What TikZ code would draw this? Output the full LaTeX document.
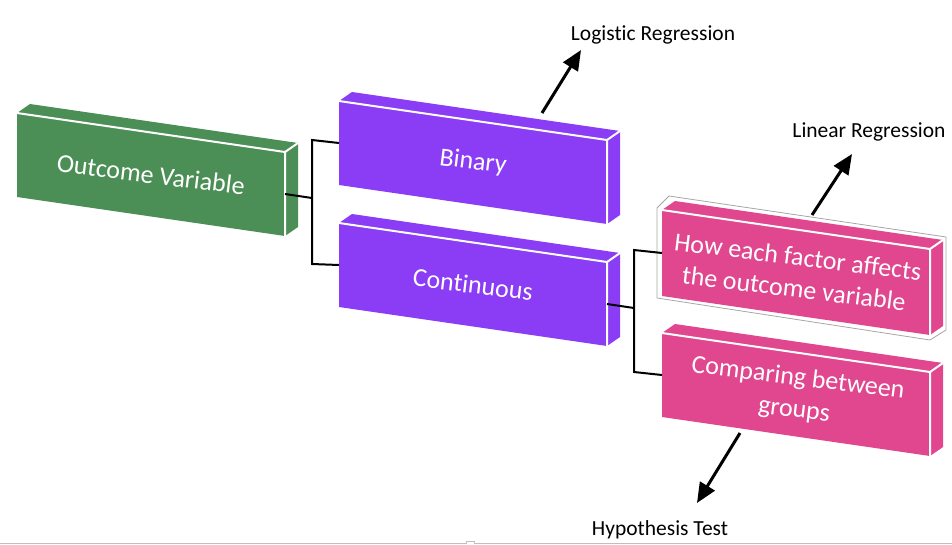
\documentclass[tikz,border=0pt]{standalone}
\usepackage{fontspec}
\setmainfont{Carlito}[Ligatures=NoCommon]
\usetikzlibrary{arrows.meta,calc}
\definecolor{ovgreen}{RGB}{76,143,86}
\definecolor{catpurple}{RGB}{138,61,245}
\definecolor{aimpink}{RGB}{224,71,143}

\begin{document}
\begin{tikzpicture}[
  x=1pt, y=-1pt,
  edge/.style={white, line width=2pt, line join=round},
  boxtext/.style={text=white, font=\fontsize{26}{32}\selectfont, align=center, rotate=-7, inner sep=0pt},
  lbl/.style={font=\fontsize{21.5}{26}\selectfont, inner sep=0pt, anchor=base},
  conn/.style={black, line width=2pt},
  arr/.style={-{Triangle[length=20pt,width=17pt]}, line width=3pt},
]
\useasboundingbox (0,0) rectangle (952,544);

% --- Slanted 3D boxes ---
\foreach \n/\x/\y/\h/\c/\t in {ov/17/113/84/ovgreen/{Outcome Variable},
    bin/339/101/84/catpurple/{Binary},
    con/339/223/84/catpurple/{Continuous},
    fac/662/210/86/aimpink/{How each factor affects\\the outcome variable},
    grp/662/333/84/aimpink/{Comparing between\\groups}}{
  \fill[\c] (\x,\y) -- ++(13,-9) -- ++(268,39) -- ++(0,\h) -- ++(-13,9) -- ++(-268,-39) -- cycle;
  \draw[edge] (\x,\y) -- ++(268,39) -- ++(0,\h) ++(0,-\h) -- ++(13,-9);
  \node[boxtext] (\n) at ({\x+134},{\y+19.5+\h/2}) {\t};
  \coordinate (\n-l) at (\x,{\y+\h/2});
  \coordinate (\n-r) at ({\x+268},{\y+39+\h/2});
}

% thin outline round the first pink box
\draw[gray!70, line width=0.8pt] (657,298) -- (657,208) -- (669,196) -- (946,237) -- (946,330) -- (930,340) -- cycle;

% --- Brackets ---
\coordinate (j1) at (312,198);
\draw[conn] (ov-r) -- (j1);
\draw[conn] (bin-l) -- ++(-27,-3) -- ++(0,124) -- (con-l);

\coordinate (j2) at (634,308);
\draw[conn] (con-r) -- (j2);
\draw[conn] (fac-l) -- ++(-28,-3) -- ++(0,122) -- (grp-l);

% --- Methods ---
\node[lbl] (logit) at (653,40) {Logistic Regression};
\node[lbl] (linreg) at (869,137) {Linear Regression};
\node[lbl] (hyp) at (660,535) {Hypothesis Test};

\coordinate (bin-up) at (542,113);
\coordinate (logit-tip) at (581,50);
\draw[arr] (bin-up) -- (logit-tip);

\coordinate (fac-up) at (812,215);
\coordinate (linreg-tip) at (852,154);
\draw[arr] (fac-up) -- (linreg-tip);

\coordinate (grp-down) at (740,433);
\coordinate (hyp-tip) at (697,503);
\draw[arr] (grp-down) -- (hyp-tip);

% bottom rule
\draw[gray!50, line width=1pt] (0,543) -- (466,543) -- (466,541) -- (474,541) -- (474,543) -- (952,543);

\end{tikzpicture}
\end{document}
